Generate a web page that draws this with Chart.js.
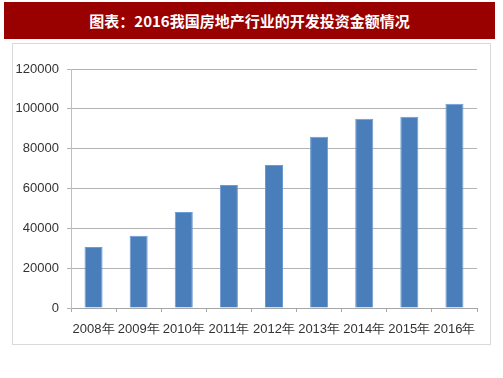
<!DOCTYPE html>
<html>
<head>
<meta charset="utf-8">
<script src="https://cdn.jsdelivr.net/npm/chart.js@4/dist/chart.umd.min.js"></script>
<style>
  body { margin: 0; background: #fff; width: 503px; height: 378px; position: relative; overflow: hidden; }
  #title {
    position: absolute; left: 4px; top: 2px; width: 491px; height: 37px;
    background: #990000; color: #fff;
    font-family: "Noto Sans CJK SC", sans-serif; font-weight: bold; font-size: 15px;
    line-height: 37px; text-align: center;
  }
  #frame {
    position: absolute; left: 12px; top: 43px; width: 477px; height: 300px;
    border: 1px solid #d9d9d9;
  }
</style>
</head>
<body>
<div id="title">图表：2016我国房地产行业的开发投资金额情况</div>
<div id="frame"><canvas id="myChart" width="477" height="300"></canvas></div>
<script>
const years = ["2008年", "2009年", "2010年", "2011年", "2012年", "2013年", "2014年", "2015年", "2016年"];
const investment = [30580, 36232, 48259, 61797, 71804, 86013, 95036, 95979, 102581];
const yTicks = [0, 20000, 40000, 60000, 80000, 100000, 120000];

const tickFont = { family: "Liberation Sans", size: 13 };

const myChart = new Chart("myChart", {
    type: "bar",
    data: {
        labels: years,
        datasets: [
            {
                label: "开发投资金额",
                data: investment,
                backgroundColor: "#4a7ebb",
                borderColor: "#6b9bd3",
                borderWidth: 1,
                categoryPercentage: 1,
                barPercentage: 0.4
            }
        ]
    },
    options: {
        responsive: false,
        animation: false,
        layout: { padding: { top: 25, right: 13, left: 0, bottom: 0 } },
        plugins: {
            legend: { display: false },
            tooltip: { enabled: false }
        },
        scales: {
            x: {
                grid: {
                    offset: true,
                    drawOnChartArea: false,
                    drawTicks: true,
                    tickLength: 4,
                    color: "#a6a6a6"
                },
                border: { color: "#a6a6a6" },
                ticks: {
                    color: "#333333",
                    font: tickFont,
                    padding: 10,
                    maxRotation: 0,
                    autoSkip: false
                },
                afterFit: function (scale) { scale.height = 36; }
            },
            y: {
                min: 0,
                max: 120000,
                afterBuildTicks: function (scale) {
                    scale.ticks = yTicks.map(function (v) { return { value: v }; });
                },
                grid: {
                    color: "#b3b3b3",
                    tickLength: 4
                },
                border: { color: "#bfbfbf" },
                ticks: {
                    color: "#333333",
                    font: tickFont,
                    padding: 8,
                    callback: function (value) { return String(value); }
                },
                afterFit: function (scale) { scale.width = 58; }
            }
        }
    }
});
</script>
</body>
</html>
